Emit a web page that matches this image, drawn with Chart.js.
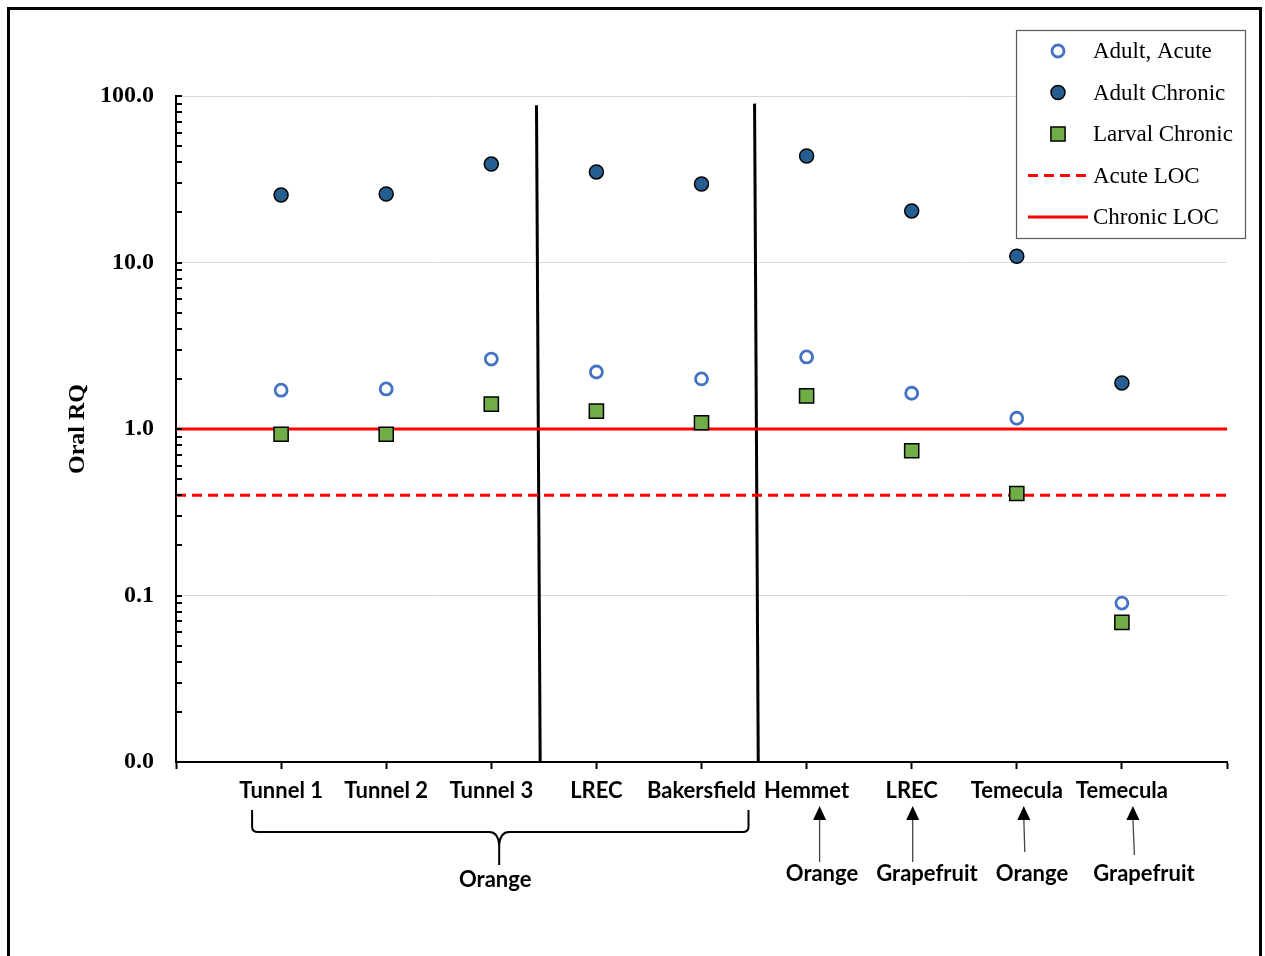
<!DOCTYPE html>
<html><head><meta charset="utf-8">
<script src="https://cdn.jsdelivr.net/npm/chart.js@4.4.0/dist/chart.umd.min.js"></script>
<style>html,body{margin:0;padding:0;background:#fff;overflow:hidden}canvas{display:block}</style>
</head><body>
<canvas id="c" width="1265" height="956"></canvas>
<script>
// ---- data ----
const sites = ['Tunnel 1','Tunnel 2','Tunnel 3','LREC','Bakersfield','Hemmet','LREC','Temecula','Temecula'];
const siteX = [1,2,3,4,5,6,7,8,9];
const adultAcute = [1.71,1.74,2.63,2.20,2.00,2.71,1.64,1.16,0.090];
const adultChronic = [25.4,25.8,39.0,35.0,29.6,43.6,20.4,10.9,1.89];
const larvalChronic = [0.93,0.93,1.41,1.28,1.09,1.58,0.74,0.41,0.069];
const acuteLOC = 0.4;
const chronicLOC = 1.0;
const yDecades = [0.01,0.1,1,10,100];
const yTickLabels = ['0.0','0.1','1.0','10.0','100.0'];
const dividerA = [{x:3.43,y:88},{x:3.465,y:0.01}];
const dividerB = [{x:5.505,y:90},{x:5.54,y:0.01}];
const orangeGroup = [1,5];          // bracketed sites (x range)
const arrowNotes = [{x:6,text:'Orange'},{x:7,text:'Grapefruit'},{x:8,text:'Orange'},{x:9,text:'Grapefruit'}];
const groupNote = 'Orange';

const pts = vals => siteX.map((x,i)=>({x:x,y:vals[i]}));
const hline = v => [{x:0,y:v},{x:10,y:v}];

const SERIF = '"Liberation Serif","Times New Roman",serif';
const SANS = 'Lato,"Noto Sans",sans-serif';

const datasets = [
  {label:'Adult, Acute', data:pts(adultAcute), showLine:false, pointStyle:'circle', pointRadius:6, pointHoverRadius:6,
   backgroundColor:'#ffffff', borderColor:'#4472C4', pointBorderWidth:2.8, order:1, legend:true},
  {label:'Adult Chronic', data:pts(adultChronic), showLine:false, pointStyle:'circle', pointRadius:7, pointHoverRadius:7,
   backgroundColor:'#255E91', borderColor:'#000000', pointBorderWidth:1.5, order:1, legend:true},
  {label:'Larval Chronic', data:pts(larvalChronic), showLine:false, pointStyle:'rect', pointRadius:10, pointHoverRadius:10,
   backgroundColor:'#70AD47', borderColor:'#000000', pointBorderWidth:1.5, order:1, legend:true},
  {label:'Acute LOC', data:hline(acuteLOC), showLine:true, pointRadius:0, borderColor:'#FF0000', borderWidth:3,
   borderDash:[10,6], order:2, legend:true},
  {label:'Chronic LOC', data:hline(chronicLOC), showLine:true, pointRadius:0, borderColor:'#FF0000', borderWidth:3,
   order:2, legend:true},
  {label:'div1', data:dividerA, showLine:true, pointRadius:0, borderColor:'#000000', borderWidth:3, order:3, legend:false},
  {label:'div2', data:dividerB, showLine:true, pointRadius:0, borderColor:'#000000', borderWidth:3, order:3, legend:false}
];

function drawMarker(ctx, ds, x, y){
  ctx.save();
  if (ds.showLine){
    ctx.strokeStyle = ds.borderColor; ctx.lineWidth = ds.borderWidth;
    ctx.setLineDash(ds.borderDash || []);
    ctx.beginPath(); ctx.moveTo(x-30,y); ctx.lineTo(x+30,y); ctx.stroke();
  } else {
    ctx.fillStyle = ds.backgroundColor; ctx.strokeStyle = ds.borderColor; ctx.lineWidth = ds.pointBorderWidth;
    ctx.beginPath();
    if (ds.pointStyle === 'rect'){ const s = ds.pointRadius*Math.SQRT1_2; ctx.rect(x-s,y-s,2*s,2*s); }
    else ctx.arc(x,y,ds.pointRadius,0,Math.PI*2);
    ctx.fill(); ctx.stroke();
  }
  ctx.restore();
}

const decorPlugin = {
  id:'decor',
  beforeDraw(chart){
    const ctx = chart.ctx;
    ctx.save(); ctx.fillStyle='#fff'; ctx.fillRect(0,0,chart.width,chart.height); ctx.restore();
  },
  afterDraw(chart){
    const ctx = chart.ctx, xs = chart.scales.x, ys = chart.scales.y;
    const left = chart.chartArea.left;
    ctx.save();
    // inside ticks on y axis
    ctx.strokeStyle = '#000'; ctx.lineWidth = 2;
    ys.ticks.forEach(t=>{
      const p = Math.round(ys.getPixelForValue(t.value));
      ctx.beginPath(); ctx.moveTo(left, p); ctx.lineTo(left+6, p); ctx.stroke();
    });
    // legend
    const lx = 1016, ly = 30, lw = 229, lh = 208;
    ctx.strokeStyle = '#595959'; ctx.lineWidth = 1.2;
    ctx.fillStyle = '#fff'; ctx.fillRect(lx,ly,lw,lh);
    ctx.strokeRect(lx+0.5,ly+0.5,lw,lh);
    ctx.font = '23px ' + SERIF; ctx.fillStyle = '#000'; ctx.textBaseline = 'middle'; ctx.textAlign = 'left';
    chart.data.datasets.filter(d=>d.legend).forEach((d,i)=>{
      const y = 51 + i*41.5;
      drawMarker(ctx, d, 1058, y);
      ctx.fillStyle = '#000';
      ctx.fillText(d.label, 1093, y+1);
    });
    // bracket
    const bl = xs.getPixelForValue(orangeGroup[0]) - 29;
    const br = xs.getPixelForValue(orangeGroup[1]) + 47;
    const bm = xs.getPixelForValue(3.075);
    const top = 810, hy = 832, tip = 845, bot = 865;
    ctx.strokeStyle = '#000'; ctx.lineWidth = 2; ctx.setLineDash([]);
    ctx.beginPath();
    ctx.moveTo(bl, top); ctx.lineTo(bl, hy-5); ctx.quadraticCurveTo(bl, hy, bl+6, hy);
    ctx.lineTo(bm-10, hy); ctx.quadraticCurveTo(bm-1, hy, bm, tip); ctx.lineTo(bm, bot);
    ctx.moveTo(bm, tip); ctx.quadraticCurveTo(bm+1, hy, bm+10, hy);
    ctx.lineTo(br-6, hy); ctx.quadraticCurveTo(br, hy, br, hy-5); ctx.lineTo(br, top);
    ctx.stroke();
    ctx.font = 'bold 22px ' + SANS; ctx.textAlign = 'center'; ctx.textBaseline = 'middle'; ctx.fillStyle = '#000';
    ctx.fillText(groupNote, bm-4, 880);
    // arrows
    const arrowGeom = [
      {dx:13, tx:822, bot:862, tilt:0},
      {dx:1, tx:927, bot:862, tilt:0},
      {dx:7, tx:1032, bot:852, tilt:1},
      {dx:11, tx:1144, bot:855, tilt:1.5}
    ];
    arrowNotes.forEach((a,i)=>{
      const g = arrowGeom[i];
      const ax = xs.getPixelForValue(a.x) + g.dx;
      ctx.strokeStyle = '#444'; ctx.lineWidth = 1.3;
      ctx.beginPath(); ctx.moveTo(ax, 818); ctx.lineTo(ax+g.tilt, g.bot); ctx.stroke();
      ctx.fillStyle = '#000';
      ctx.beginPath(); ctx.moveTo(ax, 806); ctx.lineTo(ax-6.5, 820); ctx.lineTo(ax+6.5, 820); ctx.closePath(); ctx.fill();
      ctx.fillText(a.text, g.tx, 874);
    });
    // outer frame
    ctx.strokeStyle = '#000'; ctx.lineWidth = 3;
    ctx.strokeRect(8.5, 8.5, 1252, 960);
    ctx.restore();
  }
};

new Chart(document.getElementById('c'), {
  type:'scatter',
  data:{datasets:datasets},
  options:{
    responsive:false, animation:false, devicePixelRatio:1,
    layout:{padding:{left:0, right:38, top:96, bottom:0}},
    plugins:{legend:{display:false}, tooltip:{enabled:false}},
    scales:{
      x:{
        type:'linear', min:0, max:10,
        afterFit(s){ s.height = 194; },
        afterBuildTicks(s){ s.ticks = [0,1,2,3,4,5,6,7,8,9,10].map(v=>({value:v})); },
        ticks:{autoSkip:false, maxRotation:0, minRotation:0, padding:9, color:'#000',
          font:{family:SANS, size:22, weight:'bold'},
          callback:(v)=> (v>=1 && v<=9) ? sites[v-1] : ''},
        grid:{drawOnChartArea:false, drawTicks:true, tickLength:7, tickColor:'#000', tickWidth:2},
        border:{display:true, color:'#000', width:2}
      },
      y:{
        type:'logarithmic', min:0.01, max:100,
        afterFit(s){ s.width = 176; },
        afterBuildTicks(s){
          const t = [];
          for (let d=0; d<yDecades.length; d++){
            t.push({value:yDecades[d], major:true});
            if (d < yDecades.length-1) for (let k=2;k<=9;k++) t.push({value:+(yDecades[d]*k).toPrecision(3), major:false});
          }
          s.ticks = t.sort((a,b)=>a.value-b.value);
        },
        ticks:{autoSkip:false, padding:22, color:'#000',
          font:{family:SERIF, size:24, weight:'bold'},
          callback:function(v){ const i = yDecades.indexOf(v); return i>=0 ? yTickLabels[i] : ''; }},
        grid:{drawTicks:false, lineWidth:1,
          color:(c)=>{ const v = c.tick && c.tick.value; return (yDecades.indexOf(v)>0) ? '#D9D9D9' : 'rgba(0,0,0,0)'; }},
        border:{display:true, color:'#000', width:2},
        title:{display:true, text:'Oral RQ', color:'#000', font:{family:SERIF, size:24, weight:'bold'}, padding:{top:63, bottom:0}}
      }
    }
  },
  plugins:[decorPlugin]
});
</script>
</body></html>
